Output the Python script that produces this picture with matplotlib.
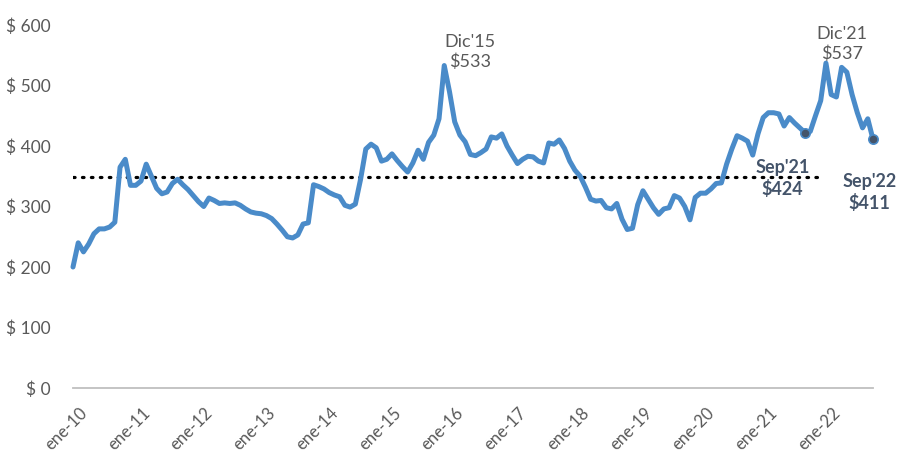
import numpy as np
import matplotlib.pyplot as plt
import matplotlib.transforms as mtransforms

plt.rcParams['font.family'] = ['Lato', 'DejaVu Sans']

# monthly price, ene-2010 .. sep-2022
precio = [
    200, 240, 225, 238, 255, 263, 263, 266, 274, 365, 378, 335,
    335, 342, 370, 350, 330, 321, 324, 338, 345, 336, 328, 318,
    308, 300, 314, 310, 305, 306, 305, 306, 302, 296, 291, 289,
    288, 285, 280, 271, 261, 250, 248, 253, 271, 273, 336, 333,
    329, 323, 319, 316, 302, 299, 304, 345, 395, 403, 397, 375,
    378, 387, 376, 366, 357, 372, 393, 378, 406, 418, 445, 533,
    490, 440, 418, 407, 386, 384, 389, 395, 415, 413, 420, 400,
    385, 371, 378, 383, 382, 375, 372, 405, 403, 410, 396, 375,
    360, 350, 332, 312, 309, 310, 298, 296, 305, 279, 262, 264,
    303, 326, 312, 298, 287, 296, 298, 318, 314, 300, 278, 315,
    322, 322, 329, 338, 339, 370, 395, 417, 413, 408, 385, 420,
    447, 455, 455, 453, 433, 447, 438, 430, 422, 424, 450, 475,
    537, 485, 481, 530, 522, 485, 455, 430, 445, 411,
]
promedio = 348
anios = ['ene-%02d' % a for a in range(10, 23)]
yticks = [0, 100, 200, 300, 400, 500, 600]

meses = np.arange(len(precio))
azul = '#4A8BC9'
oscuro = '#44546A'
gris = '#595959'

fig = plt.figure(figsize=(8.98, 4.55), dpi=100)
ax = fig.add_axes([73 / 898, 67 / 455, 800 / 898, 363 / 455])

ax.plot(meses, precio, color=azul, lw=3.6, solid_joinstyle='round',
        solid_capstyle='round', zorder=3, clip_on=False)
ax.plot([0, 143], [promedio, promedio], color='black', lw=2.3,
        linestyle=(0, (0.5, 2.3)), dash_capstyle='round', zorder=2)

# highlighted points
i21, i22 = 140, len(precio) - 1
ax.scatter([i21, i22], [precio[i21], precio[i22]], s=45, color=oscuro,
           edgecolor=azul, linewidth=1.2, zorder=4, clip_on=False)

ax.text(76, 555, "Dic'15\n$533", color=gris, fontsize=13, ha='center',
        va='center', linespacing=1.25)
ax.text(147, 569, "Dic'21\n$537", color=gris, fontsize=13, ha='center',
        va='center', linespacing=1.25)
ax.text(135.7, 346, "Sep'21\n$424", color=oscuro, fontsize=13, ha='center',
        va='center', fontweight='bold', linespacing=1.25)
ax.text(152.3, 323, "Sep'22\n$411", color=oscuro, fontsize=13, ha='center',
        va='center', fontweight='bold', linespacing=1.25)

ax.set_ylim(0, 600)
ax.set_xlim(0, 153)
ax.set_yticks(yticks)
ax.set_yticklabels(['$ %d' % v for v in yticks], color=gris, fontsize=12.5)
ax.set_xticks(np.arange(0, len(precio), 12))
ax.set_xticklabels(anios, rotation=45, ha='right', va='top',
                   rotation_mode='anchor', color=gris, fontsize=12)
ax.tick_params(length=0)
ax.tick_params(axis='y', pad=16)
ax.tick_params(axis='x', pad=12)
corr = mtransforms.ScaledTranslation(6 / 100, 0, fig.dpi_scale_trans)
for lbl in ax.get_xticklabels():
    lbl.set_transform(lbl.get_transform() + corr)

for s in ['top', 'right', 'left']:
    ax.spines[s].set_visible(False)
ax.spines['bottom'].set_color('#BFBFBF')
ax.spines['bottom'].set_linewidth(1.3)

fig.savefig('out.png', dpi=100)
